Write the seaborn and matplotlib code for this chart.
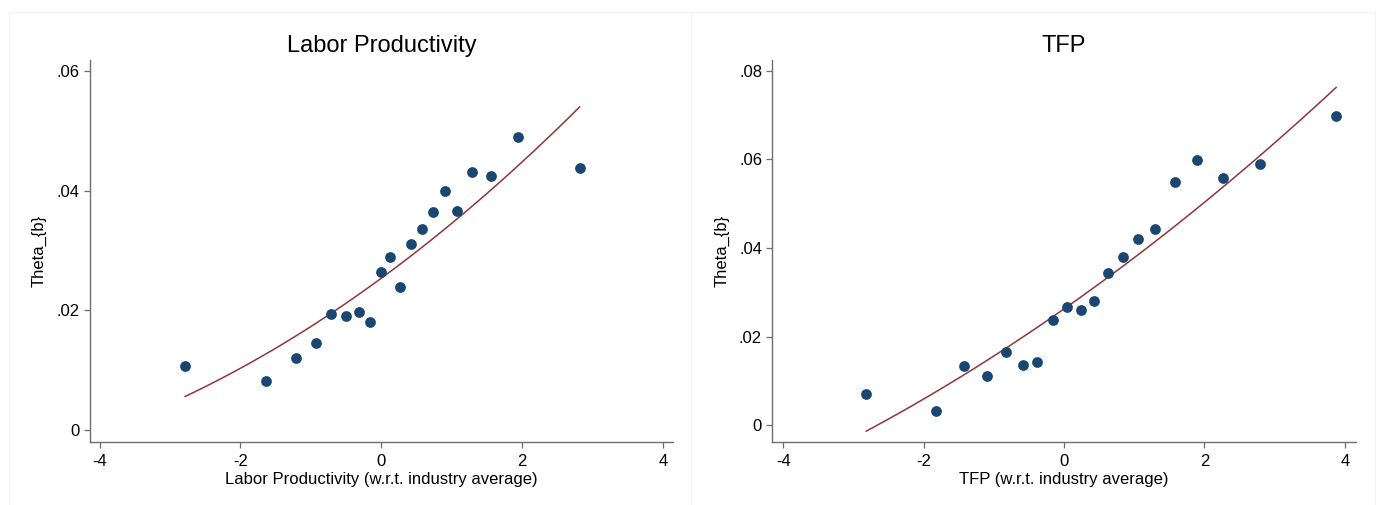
import numpy as np
import pandas as pd
import matplotlib
matplotlib.use("Agg")
import matplotlib.pyplot as plt
import seaborn as sns
from matplotlib.patches import Rectangle

# ===============================
# Dados
# ===============================
# Painel 1: Labor Productivity
lp_x = [-2.79, -1.64, -1.21, -0.93, -0.71, -0.50, -0.32, -0.16, -0.01, 0.13,
        0.27, 0.42, 0.58, 0.73, 0.90, 1.08, 1.29, 1.56, 1.94, 2.82]
lp_theta = [0.0107, 0.0082, 0.0121, 0.0145, 0.0194, 0.0191, 0.0197, 0.0181,
            0.0264, 0.0289, 0.0239, 0.0311, 0.0336, 0.0365, 0.0399, 0.0366,
            0.0431, 0.0424, 0.0489, 0.0438]
# curva ajustada (qfit), valores lidos ao longo da linha
lp_fit_x = [-2.79, -2.0, -1.0, 0.0, 1.0, 2.0, 2.82]
lp_fit_theta = [0.0056, 0.0103, 0.0173, 0.0253, 0.0346, 0.0448, 0.0540]

# Painel 2: TFP
tfp_x = [-2.82, -1.83, -1.42, -1.10, -0.83, -0.59, -0.38, -0.16, 0.04, 0.24,
         0.43, 0.63, 0.84, 1.06, 1.30, 1.58, 1.90, 2.27, 2.79, 3.88]
tfp_theta = [0.0071, 0.0032, 0.0134, 0.0111, 0.0166, 0.0136, 0.0142, 0.0238,
             0.0266, 0.0261, 0.0281, 0.0344, 0.0379, 0.0421, 0.0443, 0.0548,
             0.0599, 0.0558, 0.0590, 0.0698]
tfp_fit_x = [-2.82, -2.0, -1.0, 0.0, 1.0, 2.0, 3.0, 3.88]
tfp_fit_theta = [-0.0013, 0.0059, 0.0156, 0.0262, 0.0378, 0.0504, 0.0638, 0.0762]

# Eixos
x_ticks = [-4, -2, 0, 2, 4]
x_ticklabels = ["-4", "-2", "0", "2", "4"]
lp_yticks = [0, 0.02, 0.04, 0.06]
lp_yticklabels = ["0", ".02", ".04", ".06"]
tfp_yticks = [0, 0.02, 0.04, 0.06, 0.08]
tfp_yticklabels = ["0", ".02", ".04", ".06", ".08"]

COR_PONTO = "#1a476f"
COR_LINHA = "#90353b"
COR_EIXO = "#6e6e6e"


def painel(ax, xs, ys, fit_x, fit_y, titulo, xlabel, yticks, yticklabels, xlim, ylim):
    df_pts = pd.DataFrame({"x": xs, "theta": ys})
    df_fit = pd.DataFrame({"x": fit_x, "theta": fit_y})

    sns.regplot(data=df_fit, x="x", y="theta", order=2, scatter=False, ci=None,
                truncate=True, line_kws={"color": COR_LINHA, "lw": 1.1}, ax=ax)
    sns.scatterplot(data=df_pts, x="x", y="theta", color=COR_PONTO, s=60,
                    linewidth=0, ax=ax, zorder=3)

    ax.set_xlim(*xlim)
    ax.set_ylim(*ylim)
    ax.set_xticks(x_ticks)
    ax.set_xticklabels(x_ticklabels)
    ax.set_yticks(yticks)
    ax.set_yticklabels(yticklabels)

    sns.despine(ax=ax)
    for lado in ["left", "bottom"]:
        ax.spines[lado].set_color(COR_EIXO)
        ax.spines[lado].set_linewidth(1.0)
    ax.tick_params(bottom=True, left=True, direction="out", length=4.3,
                   width=0.9, color=COR_EIXO, labelsize=12, labelcolor="black")
    ax.tick_params(axis="x", pad=4)
    ax.tick_params(axis="y", pad=3)

    ax.set_title(titulo, fontsize=17, pad=5.5, color="black")
    ax.set_xlabel(xlabel, fontsize=12, labelpad=2, color="black")
    ax.set_ylabel("Theta_{b}", fontsize=12, labelpad=7, color="black")


# ===============================
# Plot
# ===============================
sns.set_style("ticks")
plt.rcParams["font.family"] = ["Liberation Sans", "DejaVu Sans"]

fig = plt.figure(figsize=(13.76, 5.05), dpi=100)
ax1 = fig.add_axes([0.0653, 0.1242, 0.4241, 0.757])
ax2 = fig.add_axes([0.5612, 0.1242, 0.4241, 0.757])

painel(ax1, lp_x, lp_theta, lp_fit_x, lp_fit_theta, "Labor Productivity",
       "Labor Productivity (w.r.t. industry average)",
       lp_yticks, lp_yticklabels, (-4.14, 4.15), (-0.00206, 0.06184))
painel(ax2, tfp_x, tfp_theta, tfp_fit_x, tfp_fit_theta, "TFP",
       "TFP (w.r.t. industry average)",
       tfp_yticks, tfp_yticklabels, (-4.157, 4.157), (-0.00384, 0.08244))

# molduras claras de cada gráfico
for x0, x1 in [(9, 691), (691, 1375)]:
    fig.add_artist(Rectangle((x0 / 1376, -0.01), (x1 - x0) / 1376, (505 - 12) / 505 + 0.01,
                             transform=fig.transFigure, fill=False,
                             edgecolor="#f2f2f2", lw=0.8))

fig.savefig("out.png", dpi=100)
